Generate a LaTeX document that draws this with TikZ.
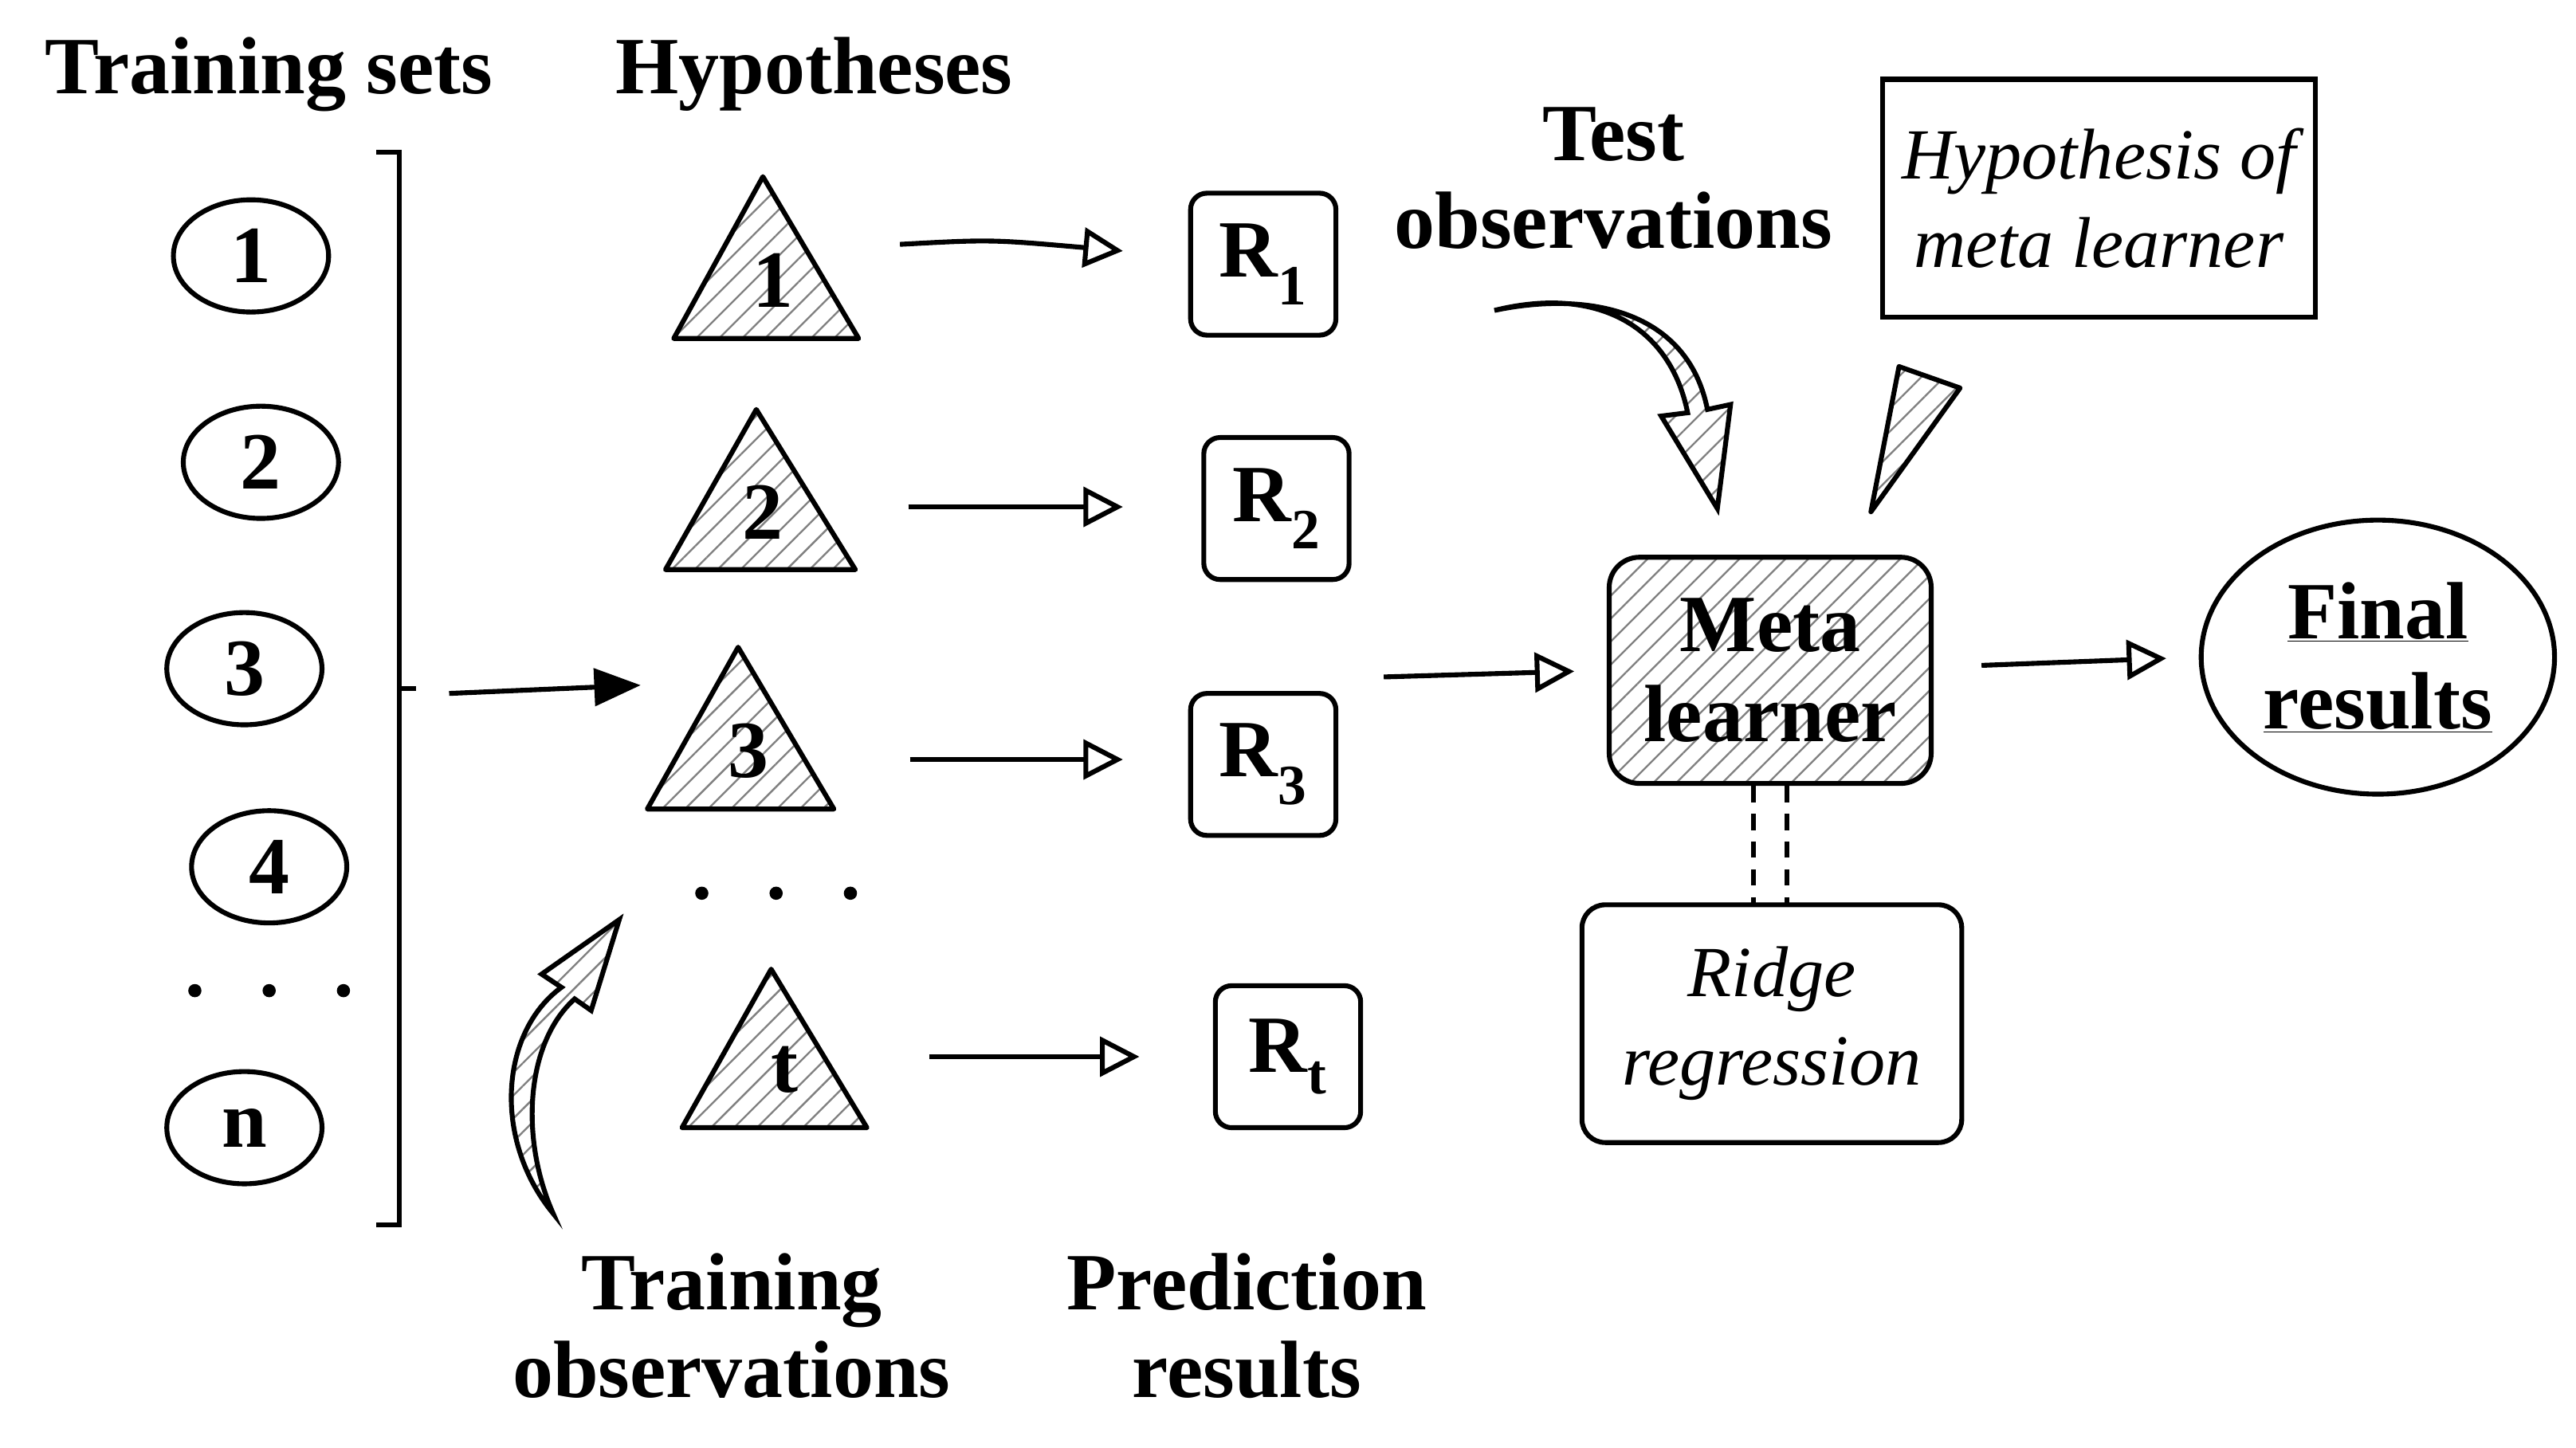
\documentclass[tikz,border=0pt]{standalone}
\usepackage{fontspec}
\setmainfont{Liberation Serif}
\usetikzlibrary{arrows.meta,patterns.meta,shapes.geometric}
\begin{document}
\begin{tikzpicture}[x=0.05cm,y=-0.05cm,line width=4.2pt,
  big/.style={font=\fontsize{70}{80}\selectfont\bfseries},
  hatch/.style={pattern={Lines[angle=45,distance=14pt,line width=1.6pt]},pattern color=gray},
  ell/.style={draw,ellipse,minimum width=4.7cm,minimum height=3.4cm,big,inner sep=0pt},
  rbox/.style={draw,rounded corners=14pt,minimum width=4.4cm,minimum height=4.3cm,big,inner sep=0pt},
  tri/.style={draw,line join=round,hatch},
  oarr/.style={-{Triangle[open,length=34pt,width=34pt]}},
  dsh/.style={dash pattern=on 14pt off 10pt},
  txt/.style={big,align=center}]
\useasboundingbox (0,0) rectangle (1560,877);
\node[txt] (ts) at (163,45) {Training sets};
\node[txt] (hy) at (493,45) {Hypotheses};
\node[ell] (e1) at (152,155) {1};
\node[ell] (e2) at (158,280) {2};
\node[ell] (e3) at (148,405) {3};
\node[ell] (e4) at (163,525) {4};
\foreach \x in {118,163,208} \fill (\x,600) circle (4);
\node[ell] (en) at (148,683) {n};
\draw (228,92) -- (242,92) -- (242,742) -- (228,742);
\draw[dsh] (242,417) -- (258,417);
\coordinate (b0) at (272,420);
\coordinate (b1) at (388,415);
\draw[-{Triangle[length=40pt,width=32pt]}] (b0) -- (b1);
% triangles
\draw[tri] (462,107) -- (520,205) -- (408,205) -- cycle;
\node[big] (h1) at (468,170) {1};
\draw[tri] (458,248) -- (518,345) -- (403,345) -- cycle;
\node[big] (h2) at (462,310) {2};
\draw[tri] (447,392) -- (505,490) -- (392,490) -- cycle;
\node[big] (h3) at (453,455) {3};
\draw[tri] (467,587) -- (525,683) -- (413,683) -- cycle;
\node[big] (ht) at (475,648) {t};
\foreach \x in {425,470,515} \fill (\x,541) circle (4);
% R boxes
\node[rbox] (r1) at (765,160) {R\textsubscript{1}};
\node[rbox] (r2) at (773,308) {R\textsubscript{2}};
\node[rbox] (r3) at (765,463) {R\textsubscript{3}};
\node[rbox] (rt) at (780,640) {R\textsubscript{t}};
\coordinate (a1) at (545,148); \coordinate (a2) at (550,307);
\coordinate (a3) at (551,460); \coordinate (a4) at (563,640);
\draw[oarr] (a1) .. controls (600,145) .. (680,152);
\draw[oarr] (a2) -- (680,307);
\draw[oarr] (a3) -- (680,460);
\draw[oarr] (a4) -- (690,640);
% test observations
\node[txt] (to) at (977,108) {Test\\[-4pt]observations};
\draw[hatch] (905,188) .. controls (970,172) and (1012,200) .. (1022,250) -- (1006,252) -- (1040,308) -- (1048,245) -- (1034,248) .. controls (1022,188) and (962,176) .. (905,188) -- cycle;
\node[draw,minimum width=13.1cm,minimum height=7.2cm,align=center,font=\fontsize{62}{76}\selectfont\itshape] (hm) at (1271,120) {Hypothesis of\\meta learner};
\draw[hatch,line join=round] (1150,222) -- (1187,235) -- (1133,310) -- cycle;
\node[rbox,hatch,minimum width=9.75cm,minimum height=6.85cm,align=center,rounded corners=26pt] (ml) at (1072,406) {Meta\\[-2pt]learner};
\coordinate (m0) at (838,410);
\draw[oarr,shorten >=28pt] (m0) -- (ml.west);
\node[rbox,minimum width=11.5cm,minimum height=7.2cm,align=center,font=\fontsize{62}{76}\selectfont\itshape,rounded corners=20pt] (rr) at (1073,620) {Ridge\\regression};
\draw[dsh] (1062,476) -- (1062,548);
\draw[dsh] (1082,476) -- (1082,548);
\node[draw,ellipse,minimum width=10.7cm,minimum height=8.3cm,txt,inner sep=0pt] (fr) at (1440,398) {\underline{Final}\\[-2pt]\underline{results}};
\coordinate (f0) at (1200,403);
\draw[oarr,shorten >=28pt] (f0) -- (fr.west);
% training observations arrow
\draw[hatch] (335,735) .. controls (298,690) and (303,625) .. (340,598) -- (328,590) -- (375,557) -- (358,612) -- (348,605) .. controls (318,632) and (315,690) .. (335,735) -- cycle;
\node[txt] (tob) at (443,803) {Training\\[-4pt]observations};
\node[txt] (pr) at (755,803) {Prediction\\[-4pt]results};
\end{tikzpicture}
\end{document}
